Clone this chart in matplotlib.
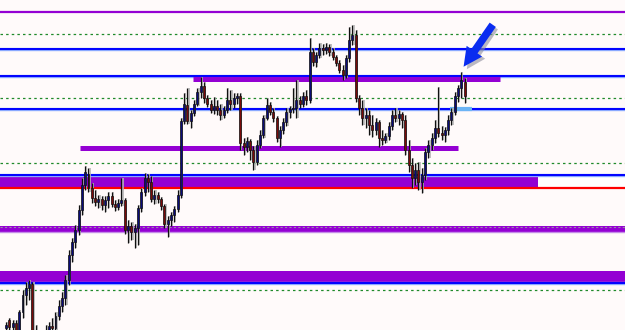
import matplotlib.pyplot as plt
from matplotlib.patches import FancyArrowPatch

# candle prices (arbitrary chart units), one entry per bar
open_ = [2, 10, 3, 7, 0, 18, 35, 42, 46, -5, -10, -15, -10, -5, 4, 2, 14, 24, 32, 50,
         75, 88, 100, 120, 145, 156, 142, 132, 128, 131, 125, 130, 134, 126, 123, 127, 130, 100, 104, 98,
         102, 122, 138, 152, 148, 131, 135, 131, 124, 106, 110, 115, 121, 135, 209, 225, 209, 217, 226, 238,
         244, 232, 226, 220, 224, 220, 215, 220, 230, 226, 232, 234, 187, 183, 189, 180, 168, 185, 195, 212,
         225, 218, 212, 192, 200, 208, 218, 221, 222, 230, 226, 234, 230, 278, 268, 275, 282, 280, 283, 278,
         273, 267, 260, 255, 272, 290, 295, 232, 222, 212, 215, 205, 200, 208, 192, 190, 194, 204, 215, 212,
         216, 210, 180, 165, 152, 160, 148, 155, 178, 185, 192, 202, 197, 195, 200, 210, 218, 234, 242, 248]
high = [8, 12, 10, 10, 20, 40, 48, 50, 48, 5, 0, -2, 5, 8, 12, 18, 30, 38, 55, 80,
        92, 105, 125, 152, 164, 162, 147, 140, 135, 134, 134, 138, 138, 130, 131, 152, 132, 110, 108, 106,
        125, 142, 157, 156, 154, 140, 138, 133, 126, 114, 118, 124, 140, 212, 237, 242, 220, 230, 242, 253,
        248, 235, 230, 233, 230, 226, 224, 242, 240, 237, 237, 237, 192, 193, 191, 184, 190, 200, 215, 232,
        228, 222, 214, 204, 212, 222, 224, 242, 250, 234, 238, 240, 292, 282, 278, 287, 286, 287, 286, 282,
        275, 270, 265, 275, 303, 305, 300, 235, 230, 222, 220, 215, 212, 210, 200, 197, 208, 220, 222, 220,
        218, 215, 190, 172, 167, 168, 162, 182, 190, 197, 210, 243, 204, 203, 215, 222, 238, 245, 258, 252]
low = [-5, 0, -4, -6, -8, 12, 25, 30, -10, -15, -20, -22, -18, -8, -2, 0, 10, 18, 25, 45,
       68, 82, 95, 115, 140, 138, 127, 124, 122, 120, 118, 122, 123, 119, 120, 124, 96, 87, 90, 82,
       85, 118, 134, 138, 128, 126, 127, 120, 102, 93, 104, 108, 118, 132, 206, 206, 202, 214, 224, 232,
       227, 223, 217, 216, 215, 210, 212, 217, 220, 222, 226, 180, 175, 178, 170, 160, 165, 182, 192, 210,
       215, 208, 188, 183, 196, 204, 212, 217, 212, 222, 223, 225, 227, 264, 263, 272, 275, 276, 274, 270,
       264, 257, 250, 252, 268, 285, 228, 215, 205, 202, 195, 193, 195, 183, 185, 187, 190, 200, 208, 205,
       202, 175, 158, 142, 145, 140, 137, 150, 172, 180, 187, 193, 190, 188, 195, 205, 215, 228, 232, 227]
close = [5, 3, 7, 0, 18, 35, 42, 46, -5, -10, -15, -10, -5, 4, 2, 14, 24, 32, 50, 75,
         88, 100, 120, 145, 158, 142, 132, 128, 131, 125, 130, 134, 126, 123, 127, 130, 100, 104, 98, 102,
         122, 138, 152, 148, 131, 135, 131, 124, 106, 110, 115, 121, 135, 209, 226, 209, 217, 226, 238, 244,
         232, 226, 220, 224, 220, 215, 220, 230, 226, 232, 234, 187, 183, 189, 180, 168, 185, 195, 212, 225,
         218, 212, 192, 200, 208, 218, 221, 222, 230, 226, 234, 230, 278, 268, 275, 282, 280, 283, 278, 273,
         267, 260, 255, 272, 290, 295, 232, 222, 212, 215, 205, 200, 208, 192, 190, 194, 204, 215, 212, 216,
         210, 180, 165, 152, 160, 148, 155, 178, 185, 192, 202, 197, 195, 200, 210, 218, 234, 242, 250, 234]

# horizontal levels
blue_levels = [281, 254, 221, 155, 47]
green_levels = [296, 232, 167, 40]
top_purple = 318
red_level = 142.5
# (price, start bar, end bar)
purple_segments = [(251.5, 56.7, 149.7), (182, 22.4, 137)]
zone_top = (143, 154, 161.2)        # low, high, end bar
zone_mid = (98.5, 104.5)
zone_low = (48.5, 59)
touch_level = (221, 134.5, 141.2)

BG = '#fffafa'
PURPLE = '#9400d3'

fig = plt.figure(figsize=(6.25, 3.3), dpi=100)
fig.patch.set_facecolor(BG)
ax = fig.add_axes([0, 0, 1, 1])
ax.set_facecolor(BG)
x0, x1 = -1.82, 187.6
ax.set_xlim(x0, x1)
ax.set_ylim(0, 330)
ax.axis('off')

# zones
ax.fill_between([x0, zone_top[2]], zone_top[0], zone_top[1], color=PURPLE, lw=0, zorder=1)
ax.fill_between([zone_top[2], x1], zone_top[0], zone_top[1], color='white', lw=0, zorder=1)
ax.axhspan(zone_mid[0], zone_mid[1], color=PURPLE, lw=0, zorder=1)
ax.axhline(zone_mid[0] - 0.5, color='#c58be8', lw=1, zorder=1)
ax.axhline(zone_mid[1] - 1, color='#9a8aa8', lw=0.8, ls=(0, (2, 2)), zorder=1.5)
ax.axhspan(zone_low[0], zone_low[1], color=PURPLE, lw=0, zorder=1)

ax.axhline(top_purple, color=PURPLE, lw=1.6, zorder=2)
for lv in green_levels:
    ax.axhline(lv, color='#1f8a2a', lw=0.9, ls=(0, (2, 2.5)), zorder=2)
for lv in blue_levels:
    ax.axhline(lv, color='#8aa8ff', lw=2.4, zorder=2)
    ax.axhline(lv, color='#0000ff', lw=1.4, zorder=2)
ax.axhline(red_level, color='#ff0000', lw=1.6, zorder=2)
for lv, a, b in purple_segments:
    ax.plot([a, b], [lv, lv], color=PURPLE, lw=3.6, solid_capstyle='butt', zorder=2)
ax.plot([touch_level[1], touch_level[2]], [touch_level[0], touch_level[0]],
        color='#6cb4f5', lw=3, solid_capstyle='butt', zorder=2)

# candles
xs = list(range(len(close)))
gx = [x + 0.35 for x in xs]
ax.vlines(gx, low, high, color='#b5b5b5', lw=1.2, zorder=3)
ax.vlines(xs, low, high, color='#101010', lw=0.9, zorder=4)
cols = ['#0b0b78' if c >= o else '#7a0a0a' for o, c in zip(open_, close)]
hts = [c - o for o, c in zip(open_, close)]
ax.bar(xs, hts, bottom=open_, width=0.6, color=cols, edgecolor='#101010', lw=0.5, zorder=5)

# arrow
style = 'simple,head_length=0.8,head_width=0.8,tail_width=0.32'
shadow = FancyArrowPatch((148.6, 305), (139.2, 258.5), arrowstyle=style,
                         mutation_scale=17, color='#8c8c9c', alpha=0.6, lw=0, zorder=6)
ax.add_patch(shadow)
arrow = FancyArrowPatch((148.0, 307.5), (138.2, 261), arrowstyle=style,
                        mutation_scale=17, color='#0a2cf0', lw=0, zorder=7)
ax.add_patch(arrow)

plt.savefig('out.png', dpi=100, facecolor=BG)
